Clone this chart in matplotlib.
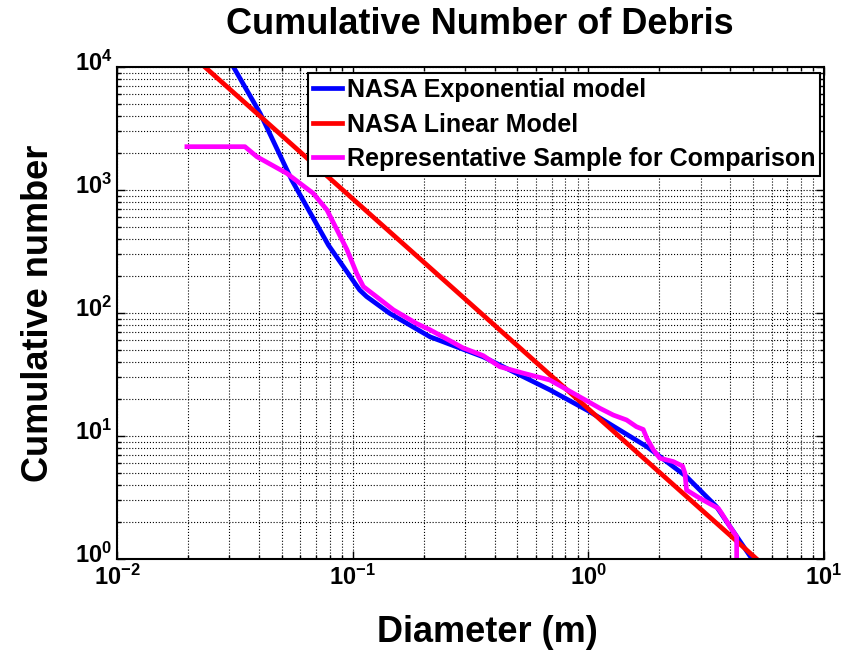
import numpy as np
import matplotlib
matplotlib.use('Agg')
import matplotlib.pyplot as plt
import matplotlib.ticker as mticker
import matplotlib.transforms as mtransforms

plt.rcParams['font.family'] = ['Liberation Sans', 'DejaVu Sans']
plt.rcParams['font.weight'] = 'bold'
plt.rcParams['mathtext.fontset'] = 'custom'
plt.rcParams['mathtext.rm'] = 'Liberation Sans:bold'
plt.rcParams['mathtext.bf'] = 'Liberation Sans:bold'
plt.rcParams['mathtext.it'] = 'Liberation Sans:bold'
plt.rcParams['mathtext.default'] = 'bf'
plt.rcParams['axes.unicode_minus'] = False

# NASA linear (power law) model: end points
linear_d = [0.0236, 5.18]
linear_n = [10000, 1.0]

# NASA exponential model
expo_d = [0.0312, 0.0405, 0.0552, 0.079, 0.107, 0.1146, 0.144, 0.213, 0.358,
          0.687, 1.0, 1.77, 2.61, 3.5, 4.95]
expo_n = [10000, 4200, 1200, 355, 154, 136, 99, 64, 44,
          23.7, 16, 8.2, 4.67, 2.66, 1.0]

# representative sample
sample_d = [0.0198, 0.0349, 0.0392, 0.0525, 0.068, 0.0778, 0.0944, 0.104, 0.111,
            0.126, 0.149, 0.187, 0.213, 0.294, 0.358, 0.421, 0.530, 0.687, 1.0,
            1.12, 1.276, 1.453, 1.60, 1.71, 1.77, 1.89, 2.01, 2.29, 2.51, 2.57,
            2.61, 2.98, 3.56, 3.68, 3.99, 4.26, 4.26]
sample_n = [2250, 2250, 1866, 1367, 940, 688, 330, 210, 164,
            136, 106, 82, 73, 52, 45, 36.6, 32.4, 28.5, 19.0,
            16.8, 14.8, 13.5, 11.9, 11.3, 9.6, 7.7, 6.6, 6.2, 5.7, 4.98,
            3.64, 3.11, 2.58, 2.35, 1.83, 1.52, 0.5]

fig = plt.figure(figsize=(8.47, 6.5), dpi=100)
ax = fig.add_axes([117 / 847, 1 - 559 / 650, 707 / 847, 492 / 650])

ax.loglog(expo_d, expo_n, color='#0000ff', lw=3.4, label='NASA Exponential model')
ax.loglog(linear_d, linear_n, color='#ff0000', lw=3.4, label='NASA Linear Model')
ax.loglog(sample_d, sample_n, color='#ff00ff', lw=3.4, label='Representative Sample for Comparison')

ax.set_xlim(1e-2, 1e1)
ax.set_ylim(1e0, 1e4)

ax.grid(True, which='both', color='black', linestyle=':', linewidth=0.8)
ax.tick_params(which='both', direction='in', top=True, right=True, labelsize=17, width=1)
ax.tick_params(which='major', length=6)
ax.tick_params(which='minor', length=3)
ax.tick_params(axis='x', pad=4)
for a in (ax.xaxis, ax.yaxis):
    a.set_major_locator(mticker.LogLocator(base=10, numticks=10))
    a.set_minor_locator(mticker.LogLocator(base=10, subs=np.arange(2, 10), numticks=20))
    a.set_minor_formatter(mticker.NullFormatter())
for s in ax.spines.values():
    s.set_linewidth(1.5)

# lift the y tick labels a little, as in the original
lift = mtransforms.ScaledTranslation(0, 6 / 100, fig.dpi_scale_trans)
for lab in ax.yaxis.get_majorticklabels():
    lab.set_transform(lab.get_transform() + lift)

fig.text(480 / 847, 1 - 34 / 650, 'Cumulative Number of Debris', fontsize=26,
         fontweight='bold', ha='center', va='baseline')
ax.set_xlabel('Diameter (m)', fontsize=26, fontweight='bold')
ax.set_ylabel('Cumulative number', fontsize=26, fontweight='bold')
ax.xaxis.label.set_va('baseline')
ax.xaxis.set_label_coords((487 - 117) / 707, (559 - 642) / 492)
ax.yaxis.set_label_coords((56 - 117) / 707, 0.5)

leg = ax.legend(loc='upper right', bbox_to_anchor=((820 - 117) / 707, (559 - 73) / 492),
                fontsize=18, handlelength=1.15, handletextpad=0.2, borderpad=0.2,
                labelspacing=0.42, fancybox=False, framealpha=1, borderaxespad=0)
leg.get_frame().set_edgecolor('black')
leg.get_frame().set_linewidth(1.5)
for t in leg.get_texts():
    t.set_fontweight('bold')

fig.savefig('out.png', dpi=100)
